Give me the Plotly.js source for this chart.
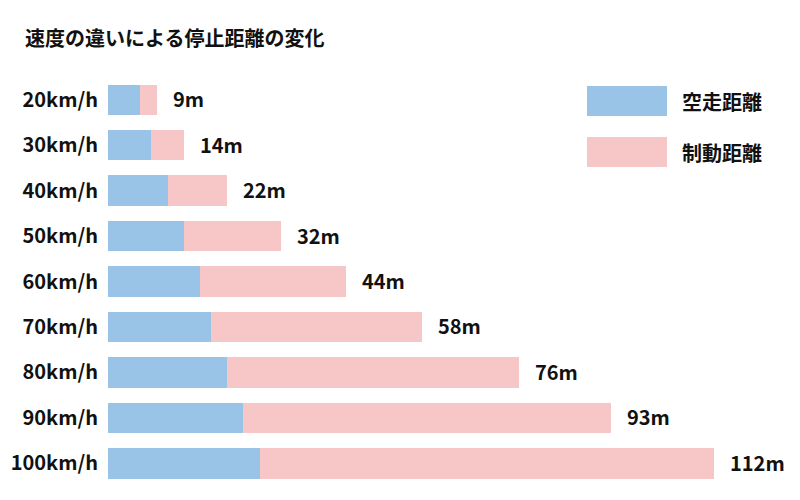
<!DOCTYPE html>
<html>
<head>
<meta charset="utf-8">
<script src="https://cdn.plot.ly/plotly-3.0.1.min.js"></script>
<style>
  html, body { margin: 0; padding: 0; background: #fff; }
  #chart { width: 800px; height: 500px; }
</style>
</head>
<body>
<div id="chart"></div>
<script>
// 速度ごとの空走距離と制動距離 (m)
const speeds = ['20km/h', '30km/h', '40km/h', '50km/h', '60km/h', '70km/h', '80km/h', '90km/h', '100km/h'];
const reactionDist = [6, 8, 11, 14, 17, 19, 22, 25, 28];
const brakingDist = [3, 6, 11, 18, 27, 39, 54, 68, 84];
const seriesNames = ['空走距離', '制動距離'];

const BLUE = '#9ac3e8';
const PINK = '#f7c7c8';
const FONT = '"Noto Sans CJK JP", "Noto Sans", sans-serif';

// plot area in pixels
const W = 800, H = 500;
const M = { l: 108, r: 42, t: 77, b: 14 };
const plotW = W - M.l - M.r;
const plotH = H - M.t - M.b;
const px = x => (x - M.l) / plotW;
const py = y => (H - M.b - y) / plotH;

const totals = speeds.map((s, i) => reactionDist[i] + brakingDist[i]);

const data = [
    {
        type: 'bar',
        orientation: 'h',
        name: seriesNames[0],
        y: speeds,
        x: reactionDist,
        marker: { color: BLUE },
        hoverinfo: 'skip'
    },
    {
        type: 'bar',
        orientation: 'h',
        name: seriesNames[1],
        y: speeds,
        x: brakingDist,
        marker: { color: PINK },
        hoverinfo: 'skip'
    }
];

// total labels at the bar ends
const annotations = speeds.map((s, i) => ({
    x: totals[i],
    y: s,
    xref: 'x',
    yref: 'y',
    text: totals[i] + 'm',
    showarrow: false,
    xanchor: 'left',
    xshift: 14,
    yshift: 1,
    font: { family: FONT, size: 20, weight: 'bold', color: '#111' }
}));

// legend drawn by hand: big swatches with labels on the right
const shapes = [];
[[86, 116, BLUE], [137, 167, PINK]].forEach(([y0, y1, c], k) => {
    shapes.push({
        type: 'rect', xref: 'paper', yref: 'paper',
        x0: px(587), x1: px(667), y0: py(y1), y1: py(y0),
        fillcolor: c, line: { width: 0 }
    });
    annotations.push({
        xref: 'paper', yref: 'paper',
        x: px(680), y: py((y0 + y1) / 2),
        xanchor: 'left', yanchor: 'middle',
        text: seriesNames[k],
        showarrow: false,
        font: { family: FONT, size: 20, weight: 'bold', color: '#111' }
    });
});

const layout = {
    width: W,
    height: H,
    margin: M,
    paper_bgcolor: '#fff',
    plot_bgcolor: '#fff',
    barmode: 'stack',
    bargap: 0.33,
    showlegend: false,
    font: { family: FONT, color: '#111' },
    title: {
        text: '速度の違いによる停止距離の変化',
        xref: 'container', yref: 'container',
        x: 25 / W, xanchor: 'left',
        y: 1 - 39 / H, yanchor: 'middle',
        font: { family: FONT, size: 20, weight: 'bold', color: '#111' }
    },
    xaxis: {
        range: [0, plotW / 5.413],
        visible: false,
        fixedrange: true
    },
    yaxis: {
        type: 'category',
        autorange: 'reversed',
        showgrid: false,
        zeroline: false,
        showline: false,
        ticks: '',
        ticklabelstandoff: 9,
        tickfont: { family: FONT, size: 20, weight: 'bold', color: '#111' },
        fixedrange: true
    },
    shapes: shapes,
    annotations: annotations
};

Plotly.newPlot('chart', data, layout, { displayModeBar: false, staticPlot: true });
</script>
</body>
</html>
